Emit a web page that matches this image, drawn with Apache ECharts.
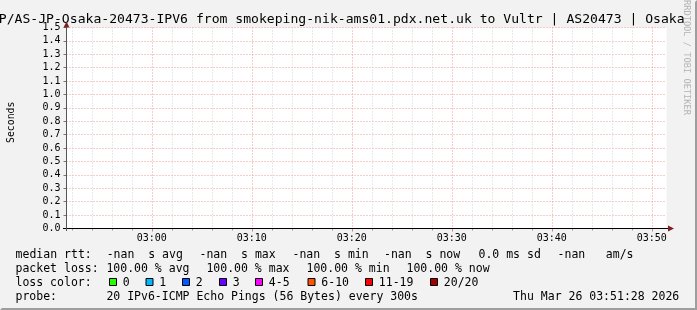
<!DOCTYPE html>
<html><head><meta charset="utf-8">
<script src="https://cdn.jsdelivr.net/npm/echarts@6/dist/echarts.min.js"></script>
<style>html,body{margin:0;padding:0;background:#f2f2f2;}#c{width:697px;height:310px;}</style>
</head><body><div id="c"></div>
<script>
// ---------------- data ----------------
const titleText = 'P/AS-JP-Osaka-20473-IPV6 from smokeping-nik-ams01.pdx.net.uk to Vultr | AS20473 | Osaka';
const yAxisTitle = 'Seconds';
const watermark = 'RRDTOOL / TOBI OETIKER';
const timeStart = '02:51:28';
const timeEnd = '03:51:28';
const xLabelTimes = ['03:00','03:10','03:20','03:30','03:40','03:50'];
const xMinorTimes = ['02:52','02:54','02:56','02:58','03:02','03:04','03:06','03:08','03:12','03:14','03:16','03:18',
                     '03:22','03:24','03:26','03:28','03:32','03:34','03:36','03:38','03:42','03:44','03:46','03:48'];
const yMin = 0, yMax = 1.5, yStep = 0.1;
// every probe round (300s) returned no reply: median rtt is NaN everywhere
const pingTimes = ['02:55','03:00','03:05','03:10','03:15','03:20','03:25','03:30','03:35','03:40','03:45','03:50'];
const medianRtt = [null,null,null,null,null,null,null,null,null,null,null,null];
const statNames = ['avg','max','min','now'];
const medianStats = ['-nan','-nan','-nan','-nan'];
const rttSd = '0.0';
const rttAmS = '-nan';
const lossStats = ['100.00','100.00','100.00','100.00'];
const lossLabels = ['0','1','2','3','4-5','6-10','11-19','20/20'];
const probeDesc = '20 IPv6-ICMP Echo Pings (56 Bytes) every 300s';
const stampText = 'Thu Mar 26 03:51:28 2026';

// ---------------- styles / layout ----------------
const lossColors = ['#26ff00','#00b8ff','#0059ff','#6a00ff','#ff00ff','#ff5500','#ff0000','#a00000'];
const MONO = '"DejaVu Sans Mono"';
const LEGEND_FONT = '11.5px ' + MONO;
const lineY = [255, 269, 283, 297];
const rttX = [106.7, 199.5, 292.5, 384];
const lossX = [106.4, 206.4, 306.5, 406.5];
const boxX = [109.5, 146, 182.5, 219.5, 255.5, 308, 365.5, 430.5];

function toMin(t){ const p=t.split(':').map(Number); return p[0]*60+p[1]+(p[2]||0)/60; }
function fmt(v){ const h=Math.floor(v/60+1e-9), m=Math.round(v-h*60); return String(h).padStart(2,'0')+':'+String(m).padStart(2,'0'); }

const xMin = toMin(timeStart), xMax = toMin(timeEnd);
const majorVals = xLabelTimes.map(toMin);
const minorVals = xMinorTimes.map(toMin);

function txt(text, x, y, font, fill, extra){
  return Object.assign({type:'text', x:x, y:y, z:100, silent:true,
    style:{text:text, font:font, fill:fill||'#000', align:'left', verticalAlign:'middle', textAlign:'left', textVerticalAlign:'middle'}}, extra||{});
}

const g = [];
// bottom/right shade
g.push({type:'polygon', z:1, silent:true, shape:{points:[[0,310],[697,310],[697,0],[695,2],[695,308],[2,308]]}, style:{fill:'#9e9e9e'}});
// title
g.push(txt(titleText, -1.2, 19.2, '13.1px ' + MONO, '#000'));
// watermark
g.push(Object.assign(txt(watermark, 686.5, 57.5, '8.7px ' + MONO, '#b4b4b4'), {rotation:-Math.PI/2}));
g[g.length-1].style.align='center'; g[g.length-1].style.textAlign='center';
// y title
const yt = txt(yAxisTitle, 11.2, 122.3, '9.8px ' + MONO, '#000', {rotation:Math.PI/2});
yt.style.align='center'; yt.style.textAlign='center';
g.push(yt);
// axis extensions + arrows
g.push({type:'line', z:101, silent:true, shape:{x1:63, y1:228.5, x2:668, y2:228.5}, style:{stroke:'#000', lineWidth:1}});
g.push({type:'line', z:101, silent:true, shape:{x1:66.5, y1:231, x2:66.5, y2:27}, style:{stroke:'#555', lineWidth:1}});
g.push({type:'polygon', z:102, silent:true, shape:{points:[[668,225.5],[668,231.5],[674,228.5]]}, style:{fill:'#801f1f'}});
g.push({type:'polygon', z:102, silent:true, shape:{points:[[63.5,27.5],[69.5,27.5],[66.5,21.5]]}, style:{fill:'#801f1f'}});

// legend line 1
g.push(txt('median rtt:', 15.6, lineY[0], LEGEND_FONT));
statNames.forEach((s,i)=>g.push(txt(medianStats[i] + '  s ' + s, rttX[i], lineY[0], LEGEND_FONT)));
g.push(txt(rttSd + ' ms sd', 478.5, lineY[0], LEGEND_FONT));
g.push(txt(rttAmS, 557.6, lineY[0], LEGEND_FONT));
g.push(txt('am/s', 605.8, lineY[0], LEGEND_FONT));
// legend line 2
g.push(txt('packet loss:', 15.5, lineY[1], LEGEND_FONT));
statNames.forEach((s,i)=>g.push(txt(lossStats[i] + ' % ' + s, lossX[i], lineY[1], LEGEND_FONT)));
// legend line 3
g.push(txt('loss color:', 15.5, lineY[2], LEGEND_FONT));
lossLabels.forEach((l,i)=>{
  g.push({type:'rect', z:100, silent:true, shape:{x:boxX[i], y:278.5, width:7, height:7}, style:{fill:lossColors[i], stroke:'#000', lineWidth:1}});
  g.push(txt(l, boxX[i] + 13.3, lineY[2], LEGEND_FONT));
});
// legend line 4
g.push(txt('probe:', 15.5, lineY[3], LEGEND_FONT));
g.push(txt(probeDesc, 106.4, lineY[3], LEGEND_FONT));
g.push(txt(stampText, 513.1, lineY[3], LEGEND_FONT));

const chart = echarts.init(document.getElementById('c'), null, {renderer:'canvas'});
chart.setOption({
  backgroundColor:'#f2f2f2',
  animation:false,
  textStyle:{fontFamily:'DejaVu Sans Mono'},
  grid:{left:66.5, top:27.5, width:600, height:201, show:true, backgroundColor:'#ffffff', borderWidth:0},
  xAxis:[
    {type:'value', min:xMin, max:xMax, position:'bottom',
     axisLine:{show:false}, axisLabel:{show:false},
     axisTick:{show:true, customValues:minorVals, length:2, lineStyle:{color:'#999'}},
     splitLine:{show:true, lineStyle:{color:'#d2d2d2', width:1, type:[1,2]}}},
    {type:'value', min:xMin, max:xMax, position:'bottom',
     axisLine:{show:true, lineStyle:{color:'#000', width:1}},
     axisTick:{show:true, customValues:majorVals, length:3, lineStyle:{color:'#e07a7a'}},
     axisLabel:{show:true, customValues:majorVals, formatter:fmt, margin:5, fontFamily:'DejaVu Sans Mono', fontSize:10, color:'#000'},
     splitLine:{show:true, lineStyle:{color:'#eb9a9a', width:1, type:[1,2]}}}
  ],
  yAxis:{type:'value', min:yMin, max:yMax, interval:yStep,
    axisLine:{show:true, lineStyle:{color:'#555'}},
    axisTick:{show:true, length:3, lineStyle:{color:'#777'}},
    axisLabel:{margin:6, formatter:v=>v.toFixed(1), fontFamily:'DejaVu Sans Mono', fontSize:10, color:'#000'},
    splitLine:{show:true, lineStyle:{color:'#eb9a9a', width:1, type:[1,2]}}},
  series:[{type:'line', name:'median rtt', xAxisIndex:1, showSymbol:false, connectNulls:false,
    lineStyle:{color:'#26ff00', width:2},
    data: pingTimes.map((t,i)=>[toMin(t), medianRtt[i]])}],
  graphic: g
});
</script>
</body></html>
